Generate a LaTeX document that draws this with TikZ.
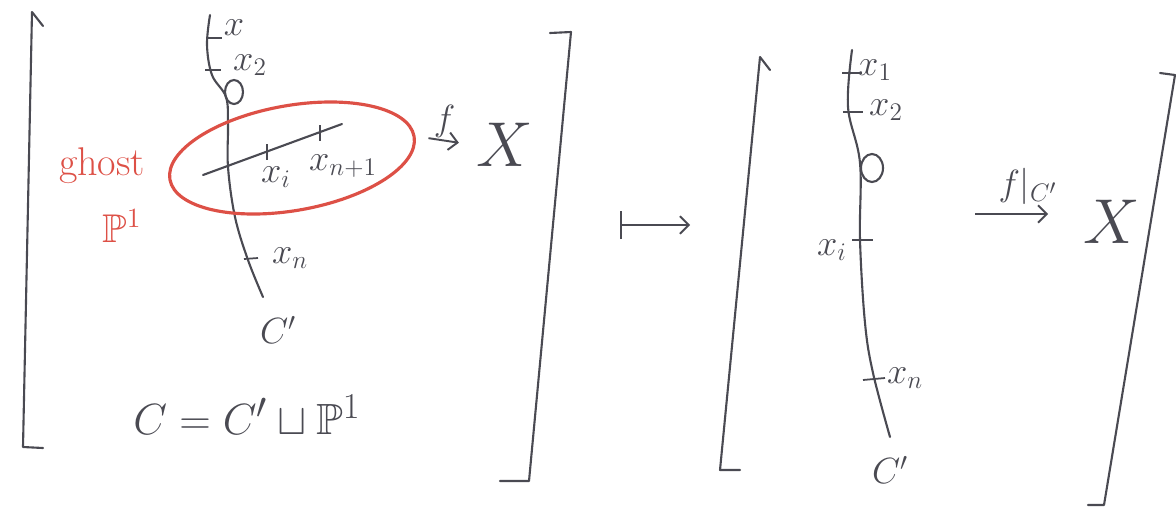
\documentclass[tikz,border=0pt]{standalone}
\usepackage{amsmath,amssymb}
\usepackage{tikz}
\usetikzlibrary{positioning,arrows.meta,shapes.geometric}
\definecolor{pencil}{HTML}{4A4A52}
\definecolor{ghostred}{HTML}{DD5046}

\begin{document}
\begin{tikzpicture}[x=0.02cm, y=-0.02cm,
        curve/.style={draw=pencil, line width=1.2pt, line cap=round, line join=round},
        tick/.style={draw=pencil, line width=1pt},
        lbl/.style={text=pencil, font=\huge, inner sep=1pt},
        big/.style={text=pencil, font=\Huge, scale=1.45, inner sep=1pt},
        ghostlbl/.style={text=ghostred, font=\huge, scale=1.1, inner sep=1pt},
        ghost/.style={ellipse, draw=ghostred, line width=1.8pt, minimum width=4.96cm, minimum height=2.1cm, inner sep=0pt, rotate=10},
        arrow/.style={-{Straight Barb[length=5pt]}, line width=1.1pt, color=pencil}
    ]
    \useasboundingbox (0,0) rectangle (1176,508);

    % brackets
    \draw[curve] (43,26) -- (32,12) -- (23,447) -- (43,448);
    \draw[curve] (550,33) -- (571,32) -- (529,481) -- (500,481);
    \draw[curve] (770,70) -- (760,57) -- (720,470) -- (740,470);
    \draw[curve] (1160,73) -- (1175,75) -- (1104,505) -- (1088,505);

    % left: the curve C' with the ghost component
    \draw[curve] plot[smooth, tension=0.6] coordinates {(210,15) (207,45) (212,75) (226,97) (228,125) (228,167) (235,217) (248,260) (263,297)};
    \draw[curve] (234,92) ellipse [x radius=9, y radius=12];
    \draw[tick] (206,38) -- (222,38);
    \draw[tick] (205,70) -- (221,70);
    \draw[tick] (244,259) -- (258,258);
    \draw[curve] (203,175) -- (342,124);
    \draw[tick] (267,144) -- (267,160);
    \draw[tick] (320,125) -- (320,141);

    \node[lbl] (lx) at (234,28) {$x$};
    \node[lbl] (lxb) at (250,65) {$x_2$};
    \node[lbl] (lxi) at (276,177) {$x_i$};
    \node[lbl] (lxnn) at (343,166) {$x_{n+1}$};
    \node[lbl] (lxn) at (290,258) {$x_n$};
    \node[lbl] (lc) at (278,330) {$C'$};
    \node[lbl, font=\Huge] (ceq) at (247,415) {$C=C'\sqcup\mathbb{P}^1$};

    \node[ghost] (gh) at (292,158) {};
    \node[ghostlbl] (ghw) at (102,166) {ghost};
    \node[ghostlbl] (ghp) at (122,226) {$\mathbb{P}^1$};

    \node[big] (xa) at (505,145) {$X$};
    \draw[arrow, shorten <=0.26cm, shorten >=0.3cm] (gh.east) -- (xa.west) node[midway, above, lbl] {$f$};

    % maps to
    \coordinate (ma) at (620,225);
    \coordinate (mb) at (690,225);
    \draw[arrow, {Bar[width=16pt]}-{Straight Barb[length=5pt]}] (ma) -- (mb);

    % right: the stabilised curve
    \draw[curve] plot[smooth, tension=0.6] coordinates {(852,50) (848,107) (860,163) (860,240) (865,323) (873,373) (890,437)};
    \draw[curve] (872,168) ellipse [x radius=11, y radius=14];
    \draw[tick] (842,73) -- (862,73);
    \draw[tick] (843,112) -- (863,112);
    \draw[tick] (852,240) -- (873,240);
    \draw[tick] (863,380) -- (885,378);

    \node[lbl] (rxa) at (875,70) {$x_1$};
    \node[lbl] (rxb) at (886,110) {$x_2$};
    \node[lbl] (rxi) at (832,250) {$x_i$};
    \node[lbl] (rxn) at (905,378) {$x_n$};
    \node[lbl] (rc) at (890,470) {$C'$};

    \coordinate (ra) at (975,214);
    \node[big] (xb) at (1112,222) {$X$};
    \draw[arrow, shorten >=0.65cm] (ra) -- (ra -| xb.west) node[midway, above=4pt, lbl] {$f|_{C'}$};
\end{tikzpicture}
\end{document}
